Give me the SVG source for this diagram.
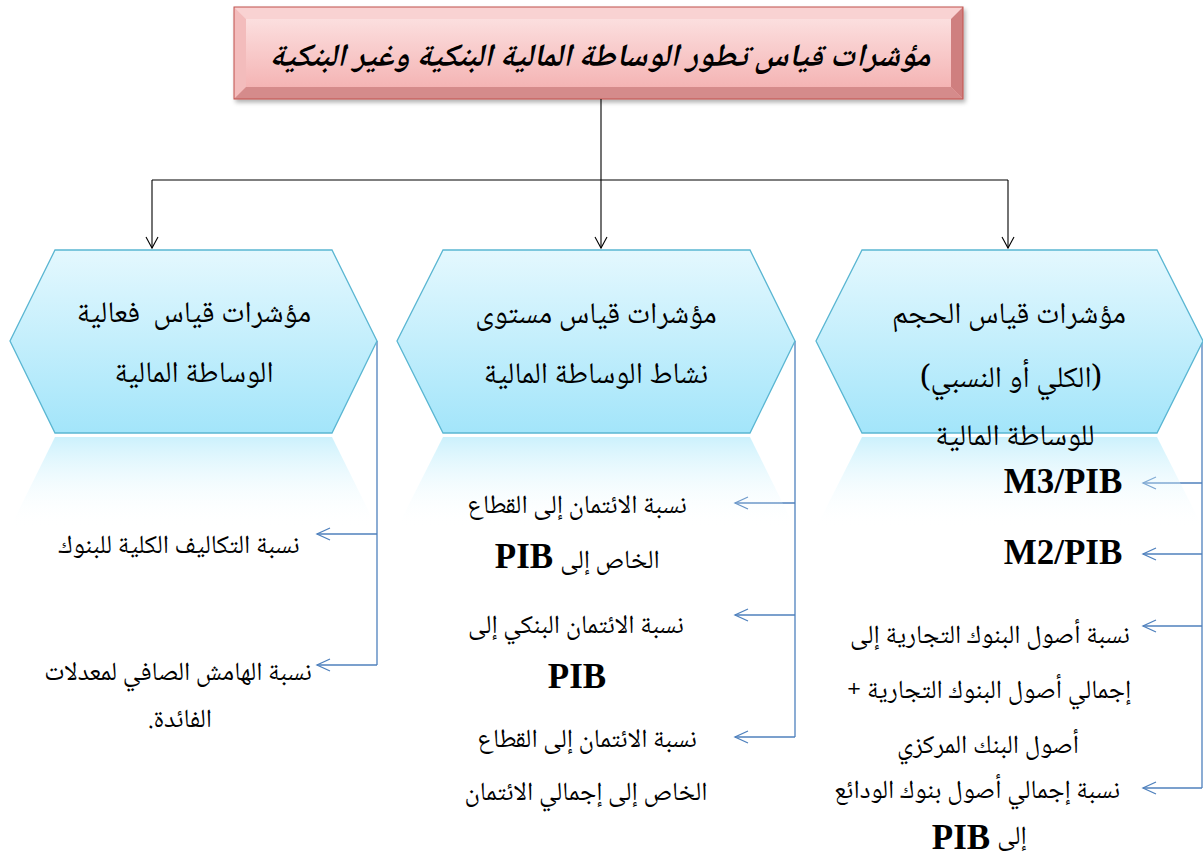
<svg xmlns="http://www.w3.org/2000/svg" width="1203" height="865" viewBox="0 0 1203 865">
<defs>
<linearGradient id="hexg" x1="0" y1="0" x2="0" y2="1">
<stop offset="0" stop-color="#e4f8fe"/><stop offset="1" stop-color="#a3e5fa"/>
</linearGradient>
<linearGradient id="reflg" x1="0" y1="0" x2="0" y2="1">
<stop offset="0" stop-color="#b6ebfb" stop-opacity="0.7"/><stop offset="1" stop-color="#ffffff" stop-opacity="0"/>
</linearGradient>
<linearGradient id="faceg" x1="0" y1="0" x2="0" y2="1">
<stop offset="0" stop-color="#fde6e6"/><stop offset="1" stop-color="#f3adad"/>
</linearGradient>
<marker id="ab" markerWidth="14" markerHeight="14" refX="12" refY="7" orient="auto" markerUnits="userSpaceOnUse">
<path d="M1,1 L12,7 L1,13" fill="none" stroke="#000" stroke-width="1.1"/>
</marker>
<marker id="ablue" markerWidth="16" markerHeight="16" refX="14" refY="8" orient="auto" markerUnits="userSpaceOnUse">
<path d="M1,2 L14,8 L1,14" fill="none" stroke="#4f81bd" stroke-width="1.3"/>
</marker>
<filter id="sh" x="-5%" y="-10%" width="110%" height="130%">
<feDropShadow dx="2" dy="3" stdDeviation="2" flood-color="#000" flood-opacity="0.3"/>
</filter>
</defs>
<style>
.ar{font-family:"Noto Naskh Arabic","DejaVu Sans",sans-serif;font-size:26px;fill:#000;text-anchor:middle;direction:rtl}
.hx{font-size:30px}
.lat{font-family:"Liberation Serif","Times New Roman",serif;font-weight:bold;font-size:35px;fill:#000;text-anchor:middle}
.hex{fill:url(#hexg);stroke:#5ab6d2;stroke-width:1.3}
.refl{fill:url(#reflg)}
.blk{fill:none;stroke:#000;stroke-width:1.1}
.blu{fill:none;stroke:#4f81bd;stroke-width:1.3}
</style>

<g id="title">
<g filter="url(#sh)">
<rect x="234" y="7" width="729" height="92" fill="url(#faceg)"/>
<polygon points="234,7 963,7 951,19 246,19" fill="#f9d2d2"/>
<polygon points="234,7 246,19 246,87 234,99" fill="#f3bcbc"/>
<polygon points="963,7 963,99 951,87 951,19" fill="#cf7f7f"/>
<polygon points="234,99 246,87 951,87 963,99" fill="#d58b8b"/>
<rect x="234" y="7" width="729" height="92" fill="none" stroke="#c0504d" stroke-width="1"/>
</g>
<text x="600" y="66" class="ar" style="font-size:32px;font-weight:bold;font-style:italic">مؤشرات قياس تطور الوساطة المالية البنكية وغير البنكية</text>
</g>

<g id="connectors">
<path class="blk" d="M601,99 V180 M152,180 H1008"/>
<path class="blk" d="M152,180 V248" marker-end="url(#ab)"/>
<path class="blk" d="M601,180 V248" marker-end="url(#ab)"/>
<path class="blk" d="M1008,180 V248" marker-end="url(#ab)"/>
<path class="blu" d="M377,341 V665 M795,341 V737 M1202,341 V788"/>
<path class="blu" d="M377,534 H317" marker-end="url(#ablue)"/>
<path class="blu" d="M377,665 H317" marker-end="url(#ablue)"/>
<path class="blu" d="M795,503 H735" marker-end="url(#ablue)"/>
<path class="blu" d="M795,615 H735" marker-end="url(#ablue)"/>
<path class="blu" d="M795,737 H735" marker-end="url(#ablue)"/>
<path class="blu" d="M1202,483 H1143" marker-end="url(#ablue)"/>
<path class="blu" d="M1202,554 H1143" marker-end="url(#ablue)"/>
<path class="blu" d="M1202,626 H1143" marker-end="url(#ablue)"/>
<path class="blu" d="M1202,788 H1143" marker-end="url(#ablue)"/>
</g>

<g id="hex-effectiveness">
<polygon class="refl" points="55,437 332,437 377,528 10,528"/>
<polygon class="hex" points="55,250 332,250 377,341 332,433 55,433 10,341"/>
<text x="194" y="322" class="ar hx" xml:space="preserve">مؤشرات قياس  فعالية</text>
<text x="194" y="382" class="ar hx">الوساطة المالية</text>
</g>

<g id="hex-activity">
<polygon class="refl" points="443,437 750,437 795,528 397,528"/>
<polygon class="hex" points="443,250 750,250 795,341 750,433 443,433 397,341"/>
<text x="596" y="323" class="ar hx">مؤشرات قياس مستوى</text>
<text x="596" y="383" class="ar hx">نشاط الوساطة المالية</text>
</g>

<g id="hex-size">
<polygon class="refl" points="862,437 1157,437 1203,528 816,528"/>
<polygon class="hex" points="862,250 1157,250 1203,341 1157,433 862,433 816,341"/>
<text x="1009" y="323" class="ar hx">مؤشرات قياس الحجم</text>
<text x="1011" y="387" class="ar hx">(الكلي أو النسبي)</text>
<text x="1015" y="445" class="ar hx">للوساطة المالية</text>
</g>

<g id="items-effectiveness">
<text x="179" y="553" class="ar">نسبة التكاليف الكلية للبنوك</text>
<text x="178" y="680" class="ar">نسبة الهامش الصافي لمعدلات</text>
<text x="180" y="727" class="ar">الفائدة.</text>
</g>

<g id="items-activity">
<text x="577" y="513" class="ar">نسبة الائتمان إلى القطاع</text>
<text x="610" y="568" class="ar">الخاص إلى</text>
<text x="524" y="568" class="lat">PIB</text>
<text x="576" y="633" class="ar">نسبة الائتمان البنكي إلى</text>
<text x="577" y="688" class="lat">PIB</text>
<text x="587" y="747" class="ar">نسبة الائتمان إلى القطاع</text>
<text x="586" y="800" class="ar">الخاص إلى إجمالي الائتمان</text>
</g>

<g id="items-size">
<text x="1063" y="493" class="lat">M3/PIB</text>
<text x="1063" y="564" class="lat">M2/PIB</text>
<text x="990" y="643" class="ar">نسبة أصول البنوك التجارية إلى</text>
<text x="989" y="698" class="ar">إجمالي أصول البنوك التجارية +</text>
<text x="988" y="753" class="ar">أصول البنك المركزي</text>
<text x="977" y="798" class="ar">نسبة إجمالي أصول بنوك الودائع</text>
<text x="1012" y="844" class="ar">إلى</text>
<text x="961" y="849" class="lat">PIB</text>
</g>
</svg>
